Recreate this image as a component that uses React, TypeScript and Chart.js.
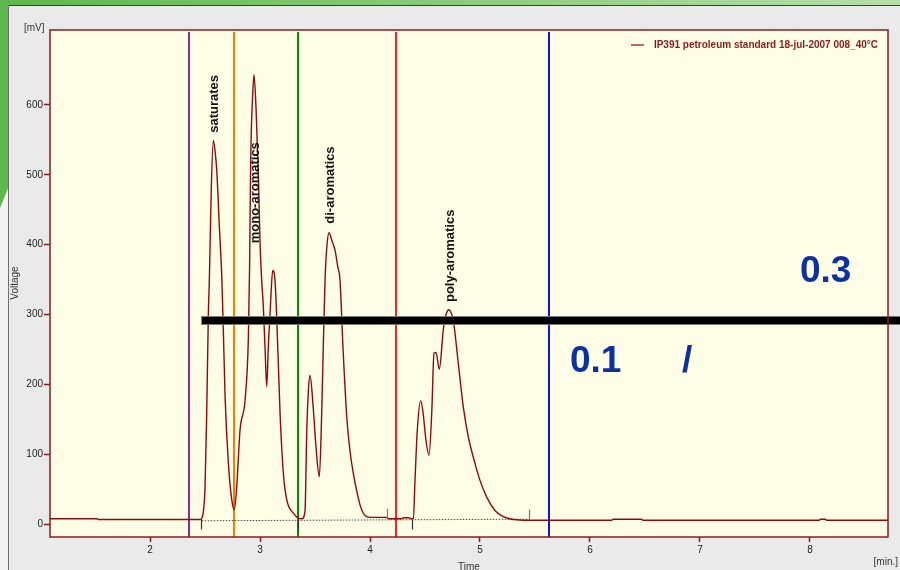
import React, { useEffect, useRef } from "react";
import { Chart, registerables } from "chart.js";

Chart.register(...registerables);

// ---------------- data ----------------
const seriesLabel = "IP391 petroleum standard 18-jul-2007 008_40°C";
const xAxisTitle = "Time";
const xAxisUnit = "[min.]";
const yAxisTitle = "Voltage";
const yAxisUnit = "[mV]";

const timeMin = [
  1.09, 1.52, 1.53, 2.46, 2.47, 2.5, 2.515, 2.53, 2.539, 2.555, 2.575, 2.59, 2.606, 2.63, 2.652, 2.666,
  2.682, 2.712, 2.743, 2.766, 2.788, 2.818, 2.864, 2.894, 2.905, 2.915, 2.934, 2.945, 2.964, 2.985, 3.0,
  3.015, 3.03, 3.045, 3.061, 3.075, 3.097, 3.115, 3.136, 3.164, 3.182, 3.212, 3.243, 3.303, 3.348, 3.382,
  3.409, 3.425, 3.441, 3.455, 3.482, 3.509, 3.539, 3.559, 3.575, 3.591, 3.609, 3.627, 3.655, 3.682, 3.705,
  3.727, 3.755, 3.788, 3.818, 3.848, 3.879, 3.909, 3.939, 3.97, 4.0, 4.152, 4.164, 4.273, 4.309, 4.355,
  4.373, 4.394, 4.409, 4.43, 4.461, 4.482, 4.509, 4.536, 4.561, 4.582, 4.6, 4.63, 4.666, 4.691, 4.718,
  4.736, 4.757, 4.803, 4.848, 4.894, 4.955, 5.0, 5.061, 5.136, 5.212, 5.303, 5.439, 6.197, 6.21, 6.47,
  6.48, 8.085, 8.095, 8.14, 8.15, 8.71,
];
const voltageMv = [
  8, 8, 7, 7, 8.6, 54, 159, 302, 350, 470, 549, 535, 507, 426, 354, 278,
  183, 87, 35, 21, 54, 135, 178, 268, 370, 521, 617, 643, 593, 497, 402,
  349, 311, 254, 197, 254, 321, 363, 349, 240, 159, 73, 35, 16, 9, 8,
  20, 135, 195, 213, 170, 110, 68, 150, 254, 350, 400, 417, 405, 392, 370,
  349, 250, 155, 105, 73, 48, 28, 16, 11, 10, 10, 8, 8, 9.5, 9.5,
  8, 8.6, 63, 135, 177, 160, 120, 99, 159, 245, 246, 222, 278, 300, 307,
  303, 292, 230, 168, 125, 87, 63, 39, 20, 11, 7, 6, 6, 7.4, 7.4,
  6, 6, 7.4, 7.4, 6, 6,
];

const baselineTime = [2.47, 5.45];
const baselineMv = [5.2, 7.5];

const xMin = 1.09;
const xMax = 8.71;
const yMin = -18;
const yMax = 707;
const xTickValues = [2, 3, 4, 5, 6, 7, 8];
const yTickValues = [0, 100, 200, 300, 400, 500, 600];

const cutTimes = [2.355, 2.764, 3.348, 4.234, 5.627];
const cutColors = ["#8e2a8e", "#ff7800", "#008c00", "#ff2020", "#1010ff"];

const fractionNames = ["saturates", "mono-aromatics", "di-aromatics", "poly-aromatics"];
const fractionLabelTime = [2.586, 2.959, 3.636, 4.732];
const fractionLabelMv = [560, 402, 430, 318];

const markTime = [2.464, 3.348, 4.152, 4.385, 5.445];
const markDir = [-1, -1, 1, -1, 1]; // -1 = downward mark, 1 = upward mark
const markMv = [7, 7, 8, 7, 7];

const thresholdMv = 291.6;
const thresholdStartTime = 2.464;

const overlayTexts = ["0.3", "0.1", "/"];
const overlayTime = [7.909, 5.818, 6.836];
const overlayMv = [347, 218, 218];

// ---------------- styling ----------------
const FONT = "'Liberation Sans', Arial, Helvetica, sans-serif";
const FRAME = "#8b1a1a";
const LINE = "#8b0a0a";

const decorPlugin = {
  id: "decor",
  beforeDraw(chart: any) {
    const { ctx, width: W, height: H, chartArea: a } = chart;
    ctx.save();
    const g = ctx.createLinearGradient(0, 0, W, 0);
    g.addColorStop(0, "#5cb84a");
    g.addColorStop(1, "#b5dfa8");
    ctx.fillStyle = g;
    ctx.fillRect(0, 0, W, H);
    // light area lower left
    ctx.fillStyle = "#f3f3f3";
    ctx.beginPath();
    ctx.moveTo(0, 208);
    ctx.lineTo(9, 186);
    ctx.lineTo(9, H);
    ctx.lineTo(0, H);
    ctx.closePath();
    ctx.fill();
    // gray panel
    ctx.fillStyle = "#eaeaea";
    ctx.fillRect(8, 5, W - 8, H - 5);
    ctx.strokeStyle = "#2c4a2c";
    ctx.lineWidth = 1;
    ctx.beginPath();
    ctx.moveTo(8, 5.5);
    ctx.lineTo(W, 5.5);
    ctx.stroke();
    ctx.strokeStyle = "#6e6e6e";
    ctx.beginPath();
    ctx.moveTo(8.5, 5);
    ctx.lineTo(8.5, H);
    ctx.stroke();
    // plot background
    ctx.fillStyle = "#fefee6";
    ctx.fillRect(a.left, a.top, a.right - a.left, a.bottom - a.top);
    ctx.restore();
  },
  beforeDatasetsDraw(chart: any) {
    const { ctx, chartArea: a, scales } = chart;
    const xs = scales.x;
    ctx.save();
    ctx.lineWidth = 2;
    cutTimes.forEach((t, i) => {
      const px = Math.round(xs.getPixelForValue(t)) + 0.0;
      ctx.strokeStyle = cutColors[i];
      ctx.beginPath();
      ctx.moveTo(px, a.top + 2);
      ctx.lineTo(px, a.bottom);
      ctx.stroke();
    });
    ctx.restore();
  },
  afterDatasetsDraw(chart: any) {
    const { ctx, chartArea: a, scales, width: W } = chart;
    const xs = scales.x;
    const ys = scales.y;
    ctx.save();
    // integration marks
    ctx.lineWidth = 1.2;
    markTime.forEach((t, i) => {
      const px = Math.round(xs.getPixelForValue(t)) + 0.5;
      const py = ys.getPixelForValue(markMv[i]);
      ctx.strokeStyle = markDir[i] < 0 ? "#333" : "#777";
      ctx.beginPath();
      ctx.moveTo(px, py);
      ctx.lineTo(px, py - markDir[i] * 10);
      ctx.stroke();
    });
    // fraction labels
    ctx.fillStyle = "#111";
    ctx.font = `bold 13px ${FONT}`;
    ctx.textAlign = "left";
    ctx.textBaseline = "middle";
    fractionNames.forEach((n, i) => {
      const px = xs.getPixelForValue(fractionLabelTime[i]);
      const py = ys.getPixelForValue(fractionLabelMv[i]);
      ctx.save();
      ctx.translate(px, py);
      ctx.rotate(-Math.PI / 2);
      ctx.fillText(n, 0, 0);
      ctx.restore();
    });
    // threshold bar
    const ty = ys.getPixelForValue(thresholdMv);
    const tx = xs.getPixelForValue(thresholdStartTime);
    ctx.fillStyle = "#7a7a70";
    ctx.fillRect(tx, ty - 4.5, W - tx, 9);
    ctx.fillStyle = "#000";
    ctx.fillRect(tx + 1, ty - 3.5, W - tx, 7);
    // overlay numbers
    ctx.fillStyle = "#0b32a0";
    ctx.font = `bold 37px ${FONT}`;
    ctx.textBaseline = "alphabetic";
    ctx.textAlign = "left";
    overlayTexts.forEach((s, i) => {
      ctx.fillText(s, xs.getPixelForValue(overlayTime[i]), ys.getPixelForValue(overlayMv[i]));
    });
    ctx.restore();
  },
  afterDraw(chart: any) {
    const { ctx, chartArea: a } = chart;
    ctx.save();
    // frame
    ctx.strokeStyle = FRAME;
    ctx.lineWidth = 1.5;
    ctx.strokeRect(a.left, a.top, a.right - a.left, a.bottom - a.top);
    // legend
    const ds = chart.data.datasets[0];
    ctx.strokeStyle = "#b86a6a";
    ctx.lineWidth = 2;
    ctx.beginPath();
    ctx.moveTo(631, 45);
    ctx.lineTo(644, 45);
    ctx.stroke();
    ctx.fillStyle = "#8b1a1a";
    ctx.font = `bold 10px ${FONT}`;
    ctx.textAlign = "right";
    ctx.textBaseline = "middle";
    ctx.fillText(ds.label, a.right - 10, 45);
    // axis titles
    ctx.fillStyle = "#333";
    ctx.font = `10px ${FONT}`;
    ctx.textAlign = "left";
    ctx.textBaseline = "middle";
    ctx.fillText(yAxisUnit, 24, 28);
    ctx.save();
    ctx.translate(15, 283);
    ctx.rotate(-Math.PI / 2);
    ctx.textAlign = "center";
    ctx.fillText(yAxisTitle, 0, 0);
    ctx.restore();
    ctx.textAlign = "center";
    ctx.textBaseline = "top";
    ctx.fillText(xAxisTitle, 469, 562);
    ctx.textAlign = "right";
    ctx.textBaseline = "middle";
    ctx.fillText(xAxisUnit, 898, 562);
    ctx.restore();
  },
};

export default function App() {
  const ref = useRef<HTMLCanvasElement>(null);

  useEffect(() => {
    if (!ref.current) return;
    const chart = new Chart(ref.current, {
      type: "line",
      data: {
        datasets: [
          {
            label: seriesLabel,
            data: timeMin.map((t, i) => ({ x: t, y: voltageMv[i] })),
            borderColor: LINE,
            borderWidth: 1.4,
            pointRadius: 0,
            cubicInterpolationMode: "monotone",
            fill: false,
            order: 1,
          },
          {
            label: "baseline",
            data: baselineTime.map((t, i) => ({ x: t, y: baselineMv[i] })),
            borderColor: "#444",
            borderWidth: 1,
            borderDash: [1.5, 1.5],
            pointRadius: 0,
            fill: false,
            order: 2,
          },
        ],
      },
      options: {
        animation: false,
        responsive: false,
        devicePixelRatio: 1,
        layout: { padding: { top: 30, right: 12, left: 0, bottom: 0 } },
        plugins: { legend: { display: false }, tooltip: { enabled: false } },
        scales: {
          x: {
            type: "linear",
            min: xMin,
            max: xMax,
            afterBuildTicks: (s: any) => {
              s.ticks = xTickValues.map((v) => ({ value: v }));
            },
            afterFit: (s: any) => {
              s.height = 33;
            },
            grid: {
              drawOnChartArea: false,
              drawTicks: true,
              tickLength: 5,
              tickColor: FRAME,
              tickWidth: 1.5,
            },
            border: { display: false },
            ticks: {
              padding: 2,
              color: "#222",
              font: { family: FONT, size: 10 },
              maxRotation: 0,
              autoSkip: false,
              callback: (v: any) => String(v),
            },
          },
          y: {
            type: "linear",
            min: yMin,
            max: yMax,
            afterBuildTicks: (s: any) => {
              s.ticks = yTickValues.map((v) => ({ value: v }));
            },
            afterFit: (s: any) => {
              s.width = 50;
            },
            grid: {
              drawOnChartArea: false,
              drawTicks: true,
              tickLength: 6,
              tickColor: FRAME,
              tickWidth: 1.5,
            },
            border: { display: false },
            ticks: {
              padding: 1,
              color: "#222",
              font: { family: FONT, size: 10 },
              autoSkip: false,
              callback: (v: any) => String(v),
            },
          },
        },
      },
      plugins: [decorPlugin],
    } as any);
    return () => chart.destroy();
  }, []);

  return (
    <div style={{ position: "absolute", left: 0, top: 0, width: 900, height: 570 }}>
      <canvas ref={ref} width={900} height={570} style={{ display: "block" }} />
    </div>
  );
}
